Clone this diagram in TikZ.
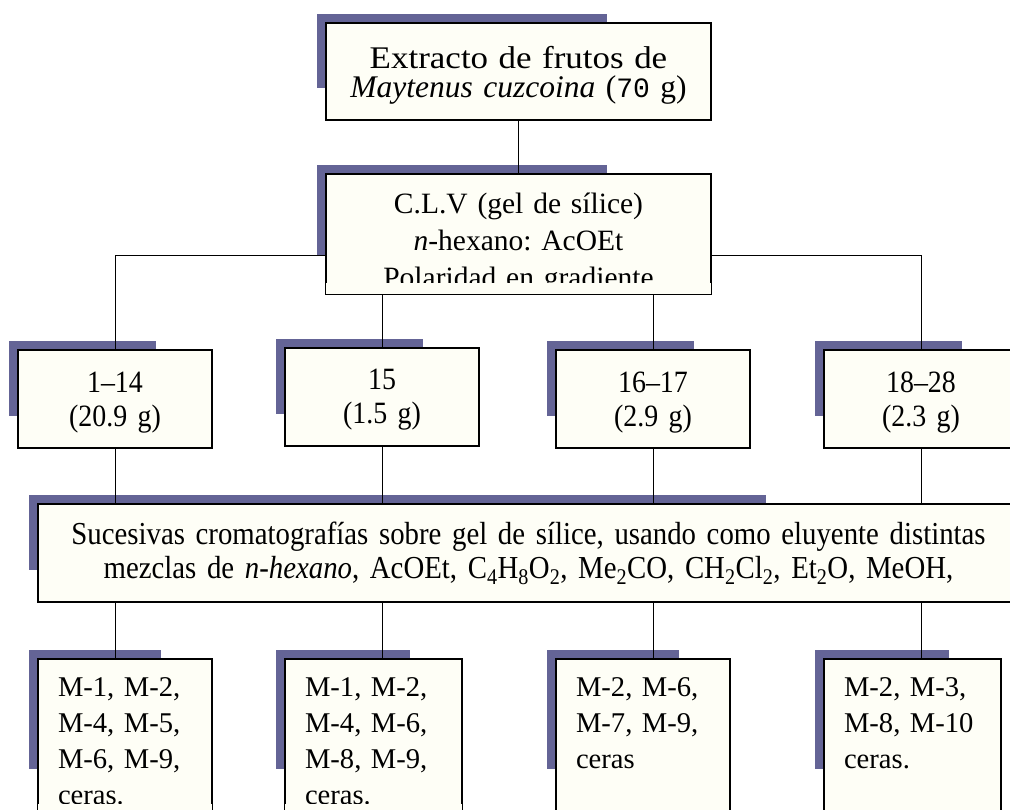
\documentclass[tikz,border=0pt]{standalone}
\usepackage{fontspec}
\setmainfont{Liberation Serif}
\newfontfamily\widefont{Liberation Serif}[FakeStretch=1.11]
\newfontfamily\narrowfont{Liberation Serif}[FakeStretch=0.9]
\newfontfamily\digitfont{Liberation Mono}
\usetikzlibrary{calc,backgrounds}
\frenchspacing

\definecolor{boxfill}{RGB}{254,254,246}
\definecolor{dropblue}{RGB}{100,100,150}

% block sticking out behind the upper left corner of a box
\newcommand{\dropblock}[1]{%
  \fill[dropblue] ($(#1.north west)+(-8,-8)$) rectangle ($(#1.north west)!0.75!(#1.south east)+(-8,-8)$);}
% text running into the bottom margin of a box is hidden
\newcommand{\bottommargin}[1]{%
  \fill[boxfill] ($(#1.south west)+(1,-12)$) rectangle ($(#1.south east)+(-1,-1)$);}

\begin{document}
\begin{tikzpicture}[x=1pt, y=-1pt, line width=2pt,
    box/.style={draw, fill=boxfill, inner sep=0pt, align=center, anchor=north west},
    frac/.style={box, text width=194pt, text height=42pt, text depth=56pt, font=\narrowfont\fontsize{31}{34}\selectfont},
    list/.style={box, align=left, text width=#1, inner xsep=20pt, text height=37pt, text depth=119pt,
                 font=\fontsize{28.6}{36}\selectfont}]
   \useasboundingbox (0,0) rectangle (1010,810);
   \clip (0,0) rectangle (1010,810);

   \node[box, text width=385pt, text height=46pt, text depth=51pt, font=\fontsize{31.5}{29}\selectfont]
      (extract) at (325,22) {{\widefont Extracto de frutos de}\\\textit{Maytenus cuzcoina} ({\digitfont\fontsize{28}{29}\selectfont 70} g)};
   \node[box, text width=385pt, text height=40pt, text depth=80pt, font=\fontsize{29.5}{37}\selectfont]
      (clv) at (325,173) {C.L.V (gel de sílice)\\\textit{n}-hexano: AcOEt\\Polaridad en gradiente};

   % fractions
   \node[frac] (f1) at (17,349)  {1–14\\(20.9 g)};
   \node[frac] (f2) at (284,347) {15\\(1.5 g)};
   \node[frac] (f3) at (555,349) {16–17\\(2.9 g)};
   \node[frac] (f4) at (823,349) {18–28\\(2.3 g)};

   \node[box, text width=981pt, text height=40pt, text depth=58pt, font=\narrowfont\fontsize{32}{34}\selectfont]
      (sil) at (37,503) {Sucesivas cromatografías sobre gel de sílice, usando como eluyente distintas\\
      mezclas de \textit{n-hexano}, AcOEt, C\textsubscript{4}H\textsubscript{8}O\textsubscript{2}, Me\textsubscript{2}CO,
      CH\textsubscript{2}Cl\textsubscript{2}, Et\textsubscript{2}O, MeOH,};

   % compounds
   \node[list=134pt] (m1) at (37,658)  {M-1, M-2,\\M-4, M-5,\\M-6, M-9,\\ceras.};
   \node[list=137pt] (m2) at (284,658) {M-1, M-2,\\M-4, M-6,\\M-8, M-9,\\ceras.};
   \node[list=134pt] (m3) at (555,658) {M-2, M-6,\\M-7, M-9,\\ceras};
   \node[list=137pt] (m4) at (823,658) {M-2, M-3,\\M-8, M-10\\ceras.};

   \bottommargin{clv}
   \bottommargin{m1}
   \bottommargin{m2}

   \begin{scope}[on background layer]
      \dropblock{extract}
      \dropblock{clv}
      \dropblock{f1}
      \dropblock{f2}
      \dropblock{f3}
      \dropblock{f4}
      \dropblock{sil}
      \dropblock{m1}
      \dropblock{m2}
      \dropblock{m3}
      \dropblock{m4}

      \coordinate (bus) at ([yshift=40pt]clv.south);
      \draw (extract.south) -- (clv.north);
      \draw (f1.north) -- (f1.north |- bus) -- (f4.north |- bus) -- (f4.north);
      \draw (f2.north) -- (f2.north |- bus);
      \draw (f3.north) -- (f3.north |- bus);

      \draw (f1.south) -- (f1.south |- sil.north);
      \draw (f2.south) -- (f2.south |- sil.north);
      \draw (f3.south) -- (f3.south |- sil.north);
      \draw (f4.south) -- (f4.south |- sil.north);

      \draw (f1.south |- sil.south) -- (f1.south |- m1.north);
      \draw (f2.south |- sil.south) -- (f2.south |- m2.north);
      \draw (f3.south |- sil.south) -- (f3.south |- m3.north);
      \draw (f4.south |- sil.south) -- (f4.south |- m4.north);
   \end{scope}
\end{tikzpicture}
\end{document}
